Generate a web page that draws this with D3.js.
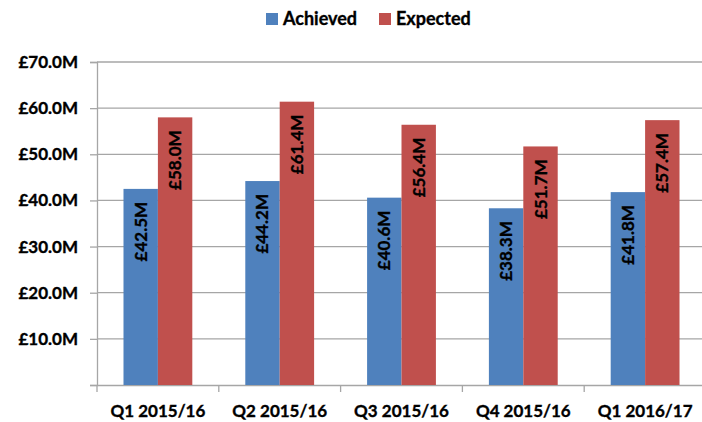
<!DOCTYPE html>
<html lang="en">
    <head>
        <meta charset="utf-8">
        <title>Achieved vs Expected</title>
        <script src="https://d3js.org/d3.v7.min.js"></script>
        <style>
            body { margin: 0; background: white; overflow: hidden; }
            svg { display: block; }
            text { font-family: Lato, "Open Sans", sans-serif; font-weight: bold; fill: #000; stroke: #000; stroke-width: 0.35px; }
        </style>
    </head>
    <body>
        <script type="text/javascript">

            var quarters = ["Q1 2015/16", "Q2 2015/16", "Q3 2015/16", "Q4 2015/16", "Q1 2016/17"];
            var achieved = [42.5, 44.2, 40.6, 38.3, 41.8];
            var expected = [58.0, 61.4, 56.4, 51.7, 57.4];
            var seriesNames = ["Achieved", "Expected"];
            var seriesColors = ["#4F81BD", "#C0504D"];
            var yTicks = [0, 10, 20, 30, 40, 50, 60, 70];

            var width = 702, height = 422;
            var plotLeft = 97, plotRight = 706, plotTop = 62, plotBottom = 385;

            var svg = d3.select("body").append("svg")
                .attr("width", width)
                .attr("height", height);

            var x = d3.scaleBand()
                .domain(quarters)
                .range([plotLeft, plotRight]);

            var xSub = d3.scaleBand()
                .domain(seriesNames)
                .range([0, x.bandwidth()])
                .paddingOuter(0.77);

            var y = d3.scaleLinear()
                .domain([0, 70])
                .range([plotBottom, plotTop]);

            var fmt = function(v) { return "£" + v.toFixed(1) + "M"; };

            // gridlines
            svg.append("g")
                .selectAll("line")
                .data(yTicks.slice(1))
                .enter().append("line")
                .attr("x1", plotLeft).attr("x2", width)
                .attr("y1", d => y(d)).attr("y2", d => y(d))
                .attr("stroke", "#a6a6a6")
                .attr("stroke-width", 1.3);

            // y axis
            var yAxis = svg.append("g")
                .attr("transform", `translate(${plotLeft},0)`)
                .call(d3.axisLeft(y).tickValues(yTicks).tickSize(7).tickPadding(12)
                    .tickFormat(d => d === 0 ? "" : fmt(d)));
            yAxis.select(".domain").attr("stroke", "#a6a6a6").attr("stroke-width", 1.3);
            yAxis.selectAll(".tick line").attr("stroke", "#a6a6a6").attr("stroke-width", 1.3);
            yAxis.selectAll("text").style("font-size", "17px").attr("fill", "#000");

            // x axis
            var xAxis = svg.append("g")
                .attr("transform", `translate(0,${plotBottom})`)
                .call(d3.axisBottom(x).tickSize(0).tickPadding(20));
            xAxis.select(".domain").attr("stroke", "#a6a6a6").attr("stroke-width", 1.3);
            xAxis.selectAll("text").style("font-size", "17px").attr("fill", "#000");

            // category tick marks at the band edges
            svg.append("g")
                .selectAll("line")
                .data(quarters)
                .enter().append("line")
                .attr("x1", d => x(d)).attr("x2", d => x(d))
                .attr("y1", plotBottom).attr("y2", plotBottom + 7)
                .attr("stroke", "#a6a6a6")
                .attr("stroke-width", 1.3);

            var rows = quarters.map((q, i) => ({ q: q, values: [achieved[i], expected[i]] }));

            var groups = svg.append("g")
                .selectAll("g")
                .data(rows)
                .enter().append("g")
                .attr("transform", d => `translate(${x(d.q)},0)`);

            var bars = groups.selectAll("g")
                .data(d => d.values.map((v, j) => ({ name: seriesNames[j], value: v, color: seriesColors[j] })))
                .enter().append("g");

            bars.append("rect")
                .attr("x", d => xSub(d.name))
                .attr("width", xSub.bandwidth())
                .attr("y", d => y(d.value))
                .attr("height", d => plotBottom - y(d.value))
                .attr("fill", d => d.color);

            bars.append("text")
                .attr("transform", d => `translate(${xSub(d.name) + xSub.bandwidth() / 2 + 6},${y(d.value) + 13}) rotate(-90)`)
                .attr("text-anchor", "end")
                .style("font-size", "17px")
                .text(d => fmt(d.value));

            // legend
            var legend = svg.append("g")
                .selectAll("g")
                .data(seriesNames)
                .enter().append("g")
                .attr("transform", (d, i) => `translate(${i === 0 ? 266 : 379},13)`);

            legend.append("rect")
                .attr("width", 12).attr("height", 12)
                .attr("fill", (d, i) => seriesColors[i]);

            legend.append("text")
                .attr("x", 17).attr("y", 12)
                .style("font-size", "18px")
                .text(d => d);

        </script>
    </body>
</html>
